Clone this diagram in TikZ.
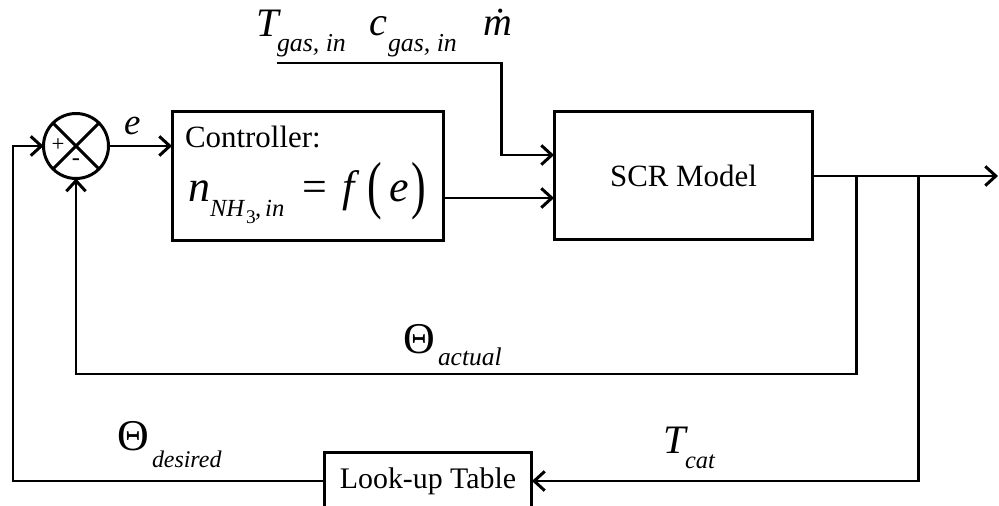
\documentclass[tikz,border=0pt]{standalone}
\usepackage{fontspec}
\setmainfont{Liberation Serif}[ItalicFont={Liberation Serif Italic}]
\usepackage{graphicx}
\usetikzlibrary{arrows.meta}
\newcommand\fsz[1]{\fontsize{#1}{#1}\selectfont}
\begin{document}
\begin{tikzpicture}[x=0.02cm,y=-0.02cm,
  line width=1.7pt,
  arr/.style={-{Straight Barb[length=6pt,width=11pt,line width=1.7pt]}},
  blk/.style={draw,rectangle,inner sep=0pt,outer sep=0pt},
  lbl/.style={anchor=base west,inner sep=0pt,outer sep=0pt},
  ctr/.style={anchor=center,inner sep=0pt,outer sep=0pt}]
\clip (0,0) rectangle (999,506);
% blocks
\node[blk,minimum width=5.44cm,minimum height=2.6cm] (ctrl) at (308,176) {};
\node[blk,minimum width=5.18cm,minimum height=2.58cm,font=\fsz{17.6}] (scr) at (683.5,175.5) {SCR Model};
\node[blk,minimum width=4.16cm,minimum height=1.16cm,font=\fsz{17}] (lut) at (428,481) {Look-up Table};
\node[draw,circle,minimum size=1.3cm,inner sep=0pt,outer sep=0pt] (sum) at (76,146) {};
\draw (sum.north west) -- (sum.south east);
\draw (sum.north east) -- (sum.south west);
\node[ctr,font=\fsz{13}] (plus) at (58,145) {+};
\node[ctr,font=\fsz{14}] (minus) at (76,162) {-};
% controller text
\node[lbl,font=\fsz{17.6}] (ctxt) at (185,148) {Controller:};
\node[lbl,font=\fsz{25}\itshape] (fn) at (188,202) {n};
\node[lbl,font=\fsz{14}\itshape] (fnh) at (210,217) {NH};
\node[lbl,font=\fsz{11}] (f3) at (246,224) {3};
\node[lbl,font=\fsz{14}\itshape] (fin) at (255,217) {,\,in};
\node[lbl,font=\fsz{25}] (feq) at (302,202) {=};
\node[lbl,font=\fsz{25}\itshape] (ff) at (342,202) {f};
\node[lbl,font=\fsz{25}] (flp) at (367,207) {\scalebox{1}[1.45]{(}};
\node[lbl,font=\fsz{25}\itshape] (fe) at (389,202) {e};
\node[lbl,font=\fsz{25}] (frp) at (411,207) {\scalebox{1}[1.45]{)}};
% labels
\node[lbl,font=\fsz{21}\itshape] (elbl) at (124,135) {e};
\node[lbl,font=\fsz{23}\itshape] (tg) at (256,37) {T};
\node[lbl,font=\fsz{14.7}\itshape] (tgs) at (277,52) {gas, in};
\node[lbl,font=\fsz{23}\itshape] (cg) at (369,36) {c};
\node[lbl,font=\fsz{14.7}\itshape] (cgs) at (388,52) {gas, in};
\node[lbl,font=\fsz{22.7}\itshape] (md) at (483,36) {\.{m}};
\node[lbl,font=\fsz{25}] (tha) at (403,353) {Θ};
\node[lbl,font=\fsz{14.5}\itshape] (thas) at (438,365) {actual};
\node[lbl,font=\fsz{25}] (thd) at (117,450) {Θ};
\node[lbl,font=\fsz{13.6}\itshape] (thds) at (152,467) {desired};
\node[lbl,font=\fsz{23}\itshape] (tc) at (663,453) {T};
\node[lbl,font=\fsz{13.9}\itshape] (tcs) at (685,468) {cat};
% coordinates
\coordinate (lc) at (13,146);
\coordinate (cy) at (0,198);
\coordinate (iy) at (0,155);
\coordinate (oy) at (0,176);
\coordinate (in0) at (277,63);
\coordinate (in1) at (501,63);
\coordinate (out) at (998,176);
\coordinate (b1) at (856,176);
\coordinate (b1d) at (856,374);
\coordinate (b2) at (918,176);
% connectors
\draw[arr] (lut.west) -| (lc) -- (sum.west);
\draw[arr] (sum.east) -- (sum.east -| ctrl.west);
\draw[arr] (ctrl.east |- cy) -- (scr.west |- cy);
\draw[arr] (in0) -- (in1) |- (scr.west |- iy);
\draw[arr] (scr.east |- oy) -- (out);
\draw[arr] (b1) -- (b1d) -| (sum.south);
\draw[arr] (b2) |- (lut.east);
\end{tikzpicture}
\end{document}
